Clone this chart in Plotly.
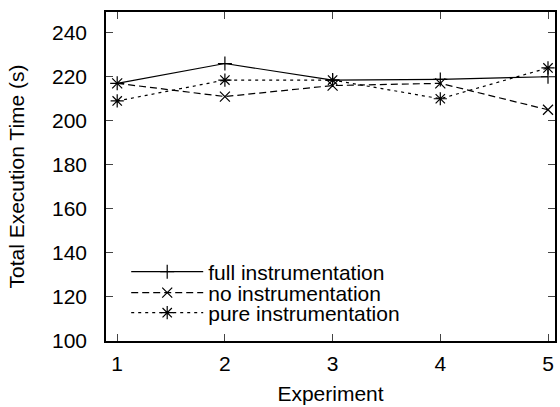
import plotly.graph_objects as go

experiments = [1, 2, 3, 4, 5]
full_instr = [217, 226, 218.5, 218.8, 220]
no_instr = [217, 211, 216, 217, 205]
pure_instr = [209, 218.5, 218.5, 210, 224]
y_ticks = [100, 120, 140, 160, 180, 200, 220, 240]

FS = 21
font = dict(family="Liberation Sans, Arial, sans-serif", size=FS, color="black")

fig = go.Figure()
fig.add_trace(go.Scatter(x=experiments, y=full_instr, name="full instrumentation",
                         mode="lines+markers", legend="legend",
                         line=dict(color="black", width=1.2, dash="solid"),
                         marker=dict(symbol="cross-thin-open", size=10, line=dict(color="black", width=1.2))))
fig.add_trace(go.Scatter(x=experiments, y=no_instr, name="no instrumentation",
                         mode="lines+markers", legend="legend2",
                         line=dict(color="black", width=1.2, dash="7px,4px"),
                         marker=dict(symbol="x-thin-open", size=10, line=dict(color="black", width=1.2))))
fig.add_trace(go.Scatter(x=experiments, y=pure_instr, name="pure instrumentation",
                         mode="lines+markers", legend="legend3",
                         line=dict(color="black", width=1.2, dash="3px,4px"),
                         marker=dict(symbol="asterisk-open", size=11, line=dict(color="black", width=1.2))))

leg_common = dict(x=0.045, xanchor="left", yanchor="middle",
                  bgcolor="rgba(0,0,0,0)", borderwidth=0,
                  font=dict(size=FS), itemwidth=72)

fig.update_layout(
    width=560, height=407,
    margin=dict(l=106, r=3, t=12, b=66, pad=0),
    paper_bgcolor="white", plot_bgcolor="white",
    font=font,
    showlegend=True,
    legend=dict(y=0.2097, **leg_common),
    legend2=dict(y=0.1459, **leg_common),
    legend3=dict(y=0.0851, **leg_common),
)
fig.update_xaxes(range=[0.896, 5.065], tickvals=experiments, ticks="inside", ticklen=7,
                 mirror="ticks", showline=True, linecolor="black", linewidth=1.5,
                 showgrid=False, zeroline=False, ticklabelstandoff=3,
                 title=dict(text="Experiment", standoff=12, font=dict(size=FS)),
                 tickfont=dict(size=FS))
fig.update_yaxes(range=[100, 249.4], tickvals=y_ticks, ticks="inside", ticklen=7,
                 mirror="ticks", showline=True, linecolor="black", linewidth=1.5,
                 showgrid=False, zeroline=False, ticklabelstandoff=13,
                 title=dict(text="Total Execution Time (s)", standoff=22, font=dict(size=FS)),
                 tickfont=dict(size=FS))

fig.write_html("out.html", config={"displayModeBar": False},
               post_script="document.body.style.margin='0';document.body.style.overflow='hidden';")
